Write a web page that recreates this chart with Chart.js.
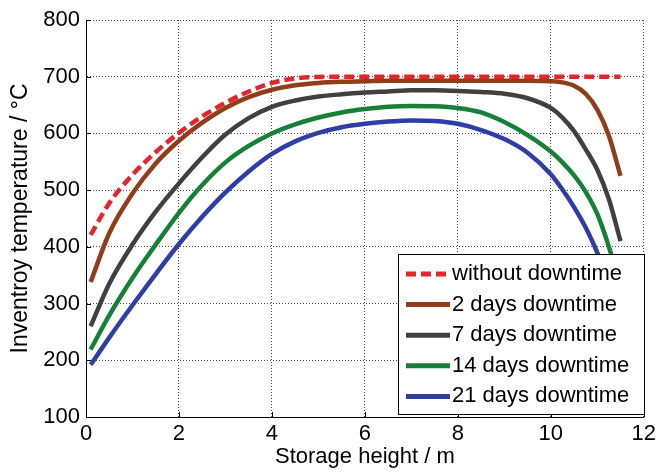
<!DOCTYPE html>
<html>
<head>
<meta charset="utf-8">
<script src="https://cdn.jsdelivr.net/npm/chart.js@4.4.1/dist/chart.umd.min.js"></script>
<style>
  html, body { margin: 0; padding: 0; background: #fff; }
  #wrap { width: 660px; height: 472px; }
</style>
</head>
<body>
<div id="wrap"><canvas id="chart" width="660" height="472"></canvas></div>
<script>
// storage height (m) where each curve was read
const heights = [0.1, 0.5, 1, 1.5, 2, 2.5, 3, 3.5, 4, 4.5, 5, 5.5, 6, 6.5, 7, 7.5, 8, 8.5, 9, 9.5, 10, 10.25, 10.5, 10.75, 11, 11.25, 11.5];

const withoutDowntime = [421, 477, 527, 567, 601, 630, 654, 674, 689, 697, 699.5, 700, 700, 700, 700, 700, 700, 700, 700, 700, 700, 700, 700, 700, 700, 700, 700];
const days2 = [338, 424, 494, 547, 587, 619, 645, 664, 677, 685, 689, 691, 692, 693, 693, 693, 693, 693, 693, 693, 692, 690, 684, 670, 642, 596, 525];
const days7 = [260, 335, 404, 462, 512, 558, 598, 627, 647, 658, 665, 669, 672, 674, 676, 676, 675, 673, 670, 662, 645, 628, 604, 572, 536, 484, 410];
const days14 = [219, 279, 345, 404, 460, 509, 549, 578, 600, 616, 628, 637, 643, 647, 648.5, 648, 645, 637, 620, 597, 568, 549, 526, 497, 458, 400, 330];
const days21 = [192, 240, 297, 352, 405, 453, 496, 533, 564, 586, 601, 611, 617, 621, 623, 622, 617, 606, 590, 566, 528, 501, 470, 434, 390, 340, 285];

const seriesLabels = ["without downtime", "2 days downtime", "7 days downtime", "14 days downtime", "21 days downtime"];
const seriesValues = [withoutDowntime, days2, days7, days14, days21];
const seriesColors = ["#e3262b", "#913d1a", "#404040", "#168036", "#2e3ea6"];

const xTicks = [0, 2, 4, 6, 8, 10, 12];
const yTicks = [100, 200, 300, 400, 500, 600, 700, 800];

const FONT = "'Liberation Sans', Arial, Helvetica, sans-serif";
Chart.defaults.font.family = FONT;
Chart.defaults.color = "#000";

// small inward tick marks on the left and bottom axes
const innerTicks = {
  id: "innerTicks",
  afterDatasetsDraw(chart) {
    const { ctx, chartArea, scales } = chart;
    ctx.save();
    ctx.strokeStyle = "#000";
    ctx.lineWidth = 1;
    ctx.beginPath();
    for (const v of xTicks) {
      const px = Math.round(scales.x.getPixelForValue(v)) + 0.5;
      ctx.moveTo(px, chartArea.bottom);
      ctx.lineTo(px, chartArea.bottom - 5);
    }
    for (const v of yTicks) {
      const py = Math.round(scales.y.getPixelForValue(v)) + 0.5;
      ctx.moveTo(chartArea.left, py);
      ctx.lineTo(chartArea.left + 5, py);
    }
    ctx.stroke();
    ctx.restore();
  },
};

// legend box drawn inside the plot, lower right
const boxLegend = {
  id: "boxLegend",
  afterDatasetsDraw(chart) {
    const { ctx, chartArea } = chart;
    const w = 246, h = 160;
    const left = Math.round(chartArea.right - w);
    const top = Math.round(chartArea.bottom - 3 - h);
    ctx.save();
    ctx.fillStyle = "#fff";
    ctx.fillRect(left, top, w, h);
    ctx.strokeStyle = "#000";
    ctx.lineWidth = 1;
    ctx.strokeRect(left + 0.5, top + 0.5, w, h);
    chart.data.datasets.forEach((ds, i) => {
      const y = top + 20 + i * 30.6;
      ctx.beginPath();
      ctx.setLineDash(ds.borderDash || []);
      ctx.strokeStyle = ds.borderColor;
      ctx.lineWidth = 5;
      ctx.moveTo(left + 8, y);
      ctx.lineTo(left + 52, y);
      ctx.stroke();
      ctx.setLineDash([]);
      ctx.fillStyle = "#000";
      ctx.font = "22px " + FONT;
      ctx.textBaseline = "middle";
      ctx.textAlign = "left";
      ctx.fillText(ds.label, left + 54, y);
    });
    ctx.restore();
  },
};

const datasets = seriesLabels.map((label, i) => ({
  label,
  data: heights.map((x, j) => ({ x, y: seriesValues[i][j] })),
  borderColor: seriesColors[i],
  backgroundColor: seriesColors[i],
  borderWidth: 4.5,
  borderDash: i === 0 ? [10, 5] : [],
  pointRadius: 0,
  cubicInterpolationMode: "monotone",
  fill: false,
}));

new Chart(document.getElementById("chart"), {
  type: "line",
  data: { datasets },
  plugins: [innerTicks, boxLegend],
  options: {
    responsive: false,
    animation: false,
    layout: { padding: { top: 20, right: 14, left: 0, bottom: 0 } },
    plugins: { legend: { display: false }, tooltip: { enabled: false } },
    scales: {
      x: {
        type: "linear",
        min: 0,
        max: 12,
        afterBuildTicks: (scale) => { scale.ticks = xTicks.map((v) => ({ value: v })); },
        afterFit: (scale) => { scale.height = 55; },
        ticks: { font: { size: 22 }, color: "#000", padding: 4, maxRotation: 0 },
        grid: { color: "#444", lineWidth: 1, drawTicks: false },
        border: { display: true, color: "#000", width: 1, dash: [1, 2] },
        title: { display: true, text: "Storage height / m", font: { size: 22 }, color: "#000", padding: { top: 0, bottom: 2 } },
      },
      y: {
        min: 100,
        max: 800,
        afterBuildTicks: (scale) => { scale.ticks = yTicks.map((v) => ({ value: v })); },
        afterFit: (scale) => { scale.width = 86; },
        ticks: { font: { size: 22 }, color: "#000", padding: 6 },
        grid: { color: "#444", lineWidth: 1, drawTicks: false },
        border: { display: true, color: "#000", width: 1, dash: [1, 2] },
        title: { display: true, text: "Inventroy temperature / °C", font: { size: 23 }, color: "#000", padding: { top: 7, bottom: 0 } },
      },
    },
  },
});
</script>
</body>
</html>
